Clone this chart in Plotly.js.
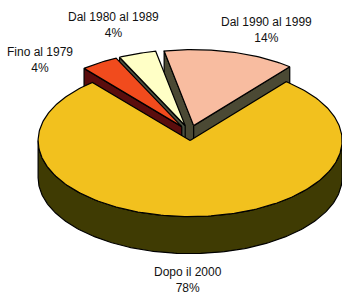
<!DOCTYPE html>
<html><head><meta charset="utf-8">
<script src="https://cdn.plot.ly/plotly-3.0.1.min.js"></script>
<style>html,body{margin:0;padding:0;background:#fff;overflow:hidden}</style>
</head><body><div id="chart" style="width:342px;height:294px"></div>
<script>
// ---- data ----
const labels = ["Fino al 1979", "Dal 1980 al 1989", "Dal 1990 al 1999", "Dopo il 2000"];
const values = [4, 4, 14, 78];

// ---- styles ----
const topColors  = ["#F14B1D", "#FFFFC6", "#F8BCA0", "#F2C11E"];
const sideColors = ["#5A0D0D", "#4A5040", "#4B4934", "#3F3B03"];
const labelPos = [[40, 60], [113, 25], [266, 30], [188, 280]];

// ---- geometry (pixel-space axes) ----
const CX = 190, CY = 133, A = 152, B = 76, DEPTH = 37, EXPLODE = 0.1, START = 320;
const rad = d => d * Math.PI / 180;
function pt(cx, cy, th, z) { return [cx + A * Math.sin(rad(th)), cy - B * Math.cos(rad(th)) + z]; }
function arc(cx, cy, t1, t2, z) {
  const out = []; const n = Math.max(2, Math.ceil(Math.abs(t2 - t1)));
  for (let i = 0; i <= n; i++) out.push(pt(cx, cy, t1 + (t2 - t1) * i / n, z));
  return out;
}
function poly(points, fill) {
  return { type: "scatter", mode: "lines", x: points.map(p => p[0]), y: points.map(p => p[1]),
    fill: "toself", fillcolor: fill, line: { color: "#000", width: 1.2 }, hoverinfo: "skip", showlegend: false };
}

const total = values.reduce((s, v) => s + v, 0);
let acc = START;
const slices = values.map((v, i) => {
  const t1 = acc, t2 = acc + v / total * 360; acc = t2;
  const mid = (t1 + t2) / 2;
  const cx = CX + A * EXPLODE * Math.sin(rad(mid));
  const cy = CY - B * EXPLODE * Math.cos(rad(mid));
  let m = ((mid % 360) + 360) % 360; const far = Math.min(m, 360 - m);
  return { i, t1, t2, cx, cy, far };
});
slices.sort((a, b) => a.far - b.far);

const traces = [];
slices.forEach(s => {
  const side = sideColors[s.i];
  if (Math.sin(rad(s.t1)) < 0) {
    const r = pt(s.cx, s.cy, s.t1, 0), rb = pt(s.cx, s.cy, s.t1, DEPTH);
    traces.push(poly([[s.cx, s.cy], r, rb, [s.cx, s.cy + DEPTH], [s.cx, s.cy]], side));
  }
  if (Math.sin(rad(s.t2)) > 0) {
    const r = pt(s.cx, s.cy, s.t2, 0), rb = pt(s.cx, s.cy, s.t2, DEPTH);
    traces.push(poly([[s.cx, s.cy], r, rb, [s.cx, s.cy + DEPTH], [s.cx, s.cy]], side));
  }
  for (let k = -1; k <= 2; k++) {
    const a1 = Math.max(s.t1, 90 + 360 * k), a2 = Math.min(s.t2, 270 + 360 * k);
    if (a2 > a1) {
      const top = arc(s.cx, s.cy, a1, a2, 0), bot = arc(s.cx, s.cy, a2, a1, DEPTH);
      const pts = top.concat(bot); pts.push(top[0]);
      traces.push(poly(pts, side));
    }
  }
  const tp = [[s.cx, s.cy]].concat(arc(s.cx, s.cy, s.t1, s.t2, 0)); tp.push([s.cx, s.cy]);
  traces.push(poly(tp, topColors[s.i]));
});

const annotations = labels.map((l, i) => ({
  x: labelPos[i][0], y: labelPos[i][1], xref: "x", yref: "y",
  text: l + "<br>" + Math.round(values[i] / total * 100) + "%",
  showarrow: false, xanchor: "center", yanchor: "middle", align: "center",
  font: { family: "Liberation Sans, Arial, sans-serif", size: 12, color: "#111" }
}));

const layout = {
  width: 342, height: 294, margin: { l: 0, r: 0, t: 0, b: 0 },
  paper_bgcolor: "#fff", plot_bgcolor: "#fff",
  xaxis: { range: [0, 342], visible: false, fixedrange: true },
  yaxis: { range: [294, 0], visible: false, fixedrange: true },
  annotations, showlegend: false
};
Plotly.newPlot("chart", traces, layout, { staticPlot: true, displayModeBar: false });
</script></body></html>
